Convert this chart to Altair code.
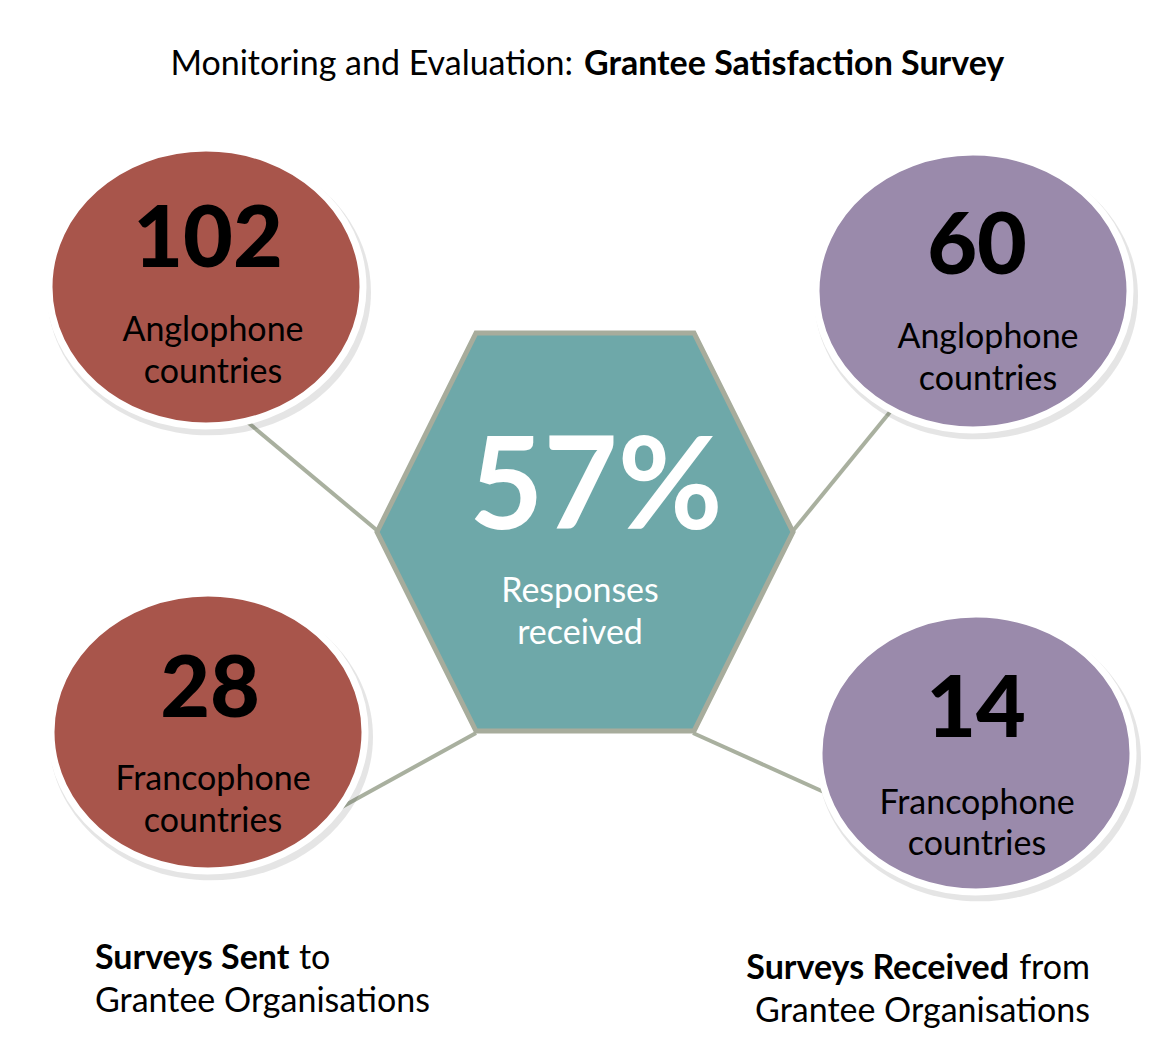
import altair as alt
import pandas as pd

# ---------------- data ----------------
title_plain = "Monitoring and Evaluation:"
title_bold = "Grantee Satisfaction Survey"

circle_group = ["Surveys Sent", "Surveys Sent", "Surveys Received", "Surveys Received"]
circle_region = ["Anglophone", "Francophone", "Anglophone", "Francophone"]
circle_count = [102, 28, 60, 14]
region_line2 = "countries"

response_rate = "57%"
centre_lines = ["Responses", "received"]

footer_left_bold = "Surveys Sent"
footer_left_plain = "to"
footer_right_bold = "Surveys Received"
footer_right_plain = "from"
footer_line2 = "Grantee Organisations"

# ---------------- layout (pixel positions on the page) ----------------
circle_cx = [206, 208, 973, 976]
circle_cy = [287, 732, 291, 753]
number_x = [208, 210, 977, 976]
number_y = [267, 717, 274, 737]
label_x = [213, 213, 988, 977]
label1_y = [341, 790, 348, 814]
label2_y = [383, 832, 390, 855]

hex_cx, hex_cy = 585, 532
connector = [  # x, y, x2, y2
    (245, 420, 379, 532),
    (340, 808, 476, 733),
    (890, 412, 792, 532),
    (693, 733, 835, 797),
]

RED = "#A8554B"
PURPLE = "#9A8AAB"
TEAL = "#6EA8A9"
HEX_STROKE = "#A7AC9C"
LINE_COL = "#A9B09F"
FONT = "Lato"

ELLIPSE = "M -1 0 A 1 0.885 0 1 1 1 0 A 1 0.885 0 1 1 -1 0 Z"
HEXAGON = ("M -1 0 L -0.524 -0.957 L 0.524 -0.957 L 1 0 "
           "L 0.524 0.957 L -0.524 0.957 Z")

xs = alt.Scale(domain=[8, 1163], nice=False, zero=False)
ys = alt.Scale(domain=[1038, 8], nice=False, zero=False)


def X(f="x"):
    return alt.X(f"{f}:Q", scale=xs, axis=None)


def Y(f="y"):
    return alt.Y(f"{f}:Q", scale=ys, axis=None)


# connectors
conn_df = pd.DataFrame(connector, columns=["x", "y", "x2", "y2"])
connectors = alt.Chart(conn_df).mark_rule(color=LINE_COL, strokeWidth=4).encode(
    x=X(), y=Y(), x2="x2:Q", y2="y2:Q"
)

# circles
circ_df = pd.DataFrame({
    "group": circle_group,
    "region": circle_region,
    "count": circle_count,
    "x": circle_cx,
    "y": circle_cy,
})
circ_df["sx"] = circ_df["x"] + 3
circ_df["sy"] = circ_df["y"] + 5
colour = alt.Color("group:N", scale=alt.Scale(domain=["Surveys Sent", "Surveys Received"],
                                                range=[RED, PURPLE]), legend=None)
shadows = alt.Chart(circ_df).mark_point(
    shape=ELLIPSE, size=(2 * 162) ** 2, filled=True, color="#000000", opacity=0.10
).encode(x=X("sx"), y=Y("sy"))
circles = alt.Chart(circ_df).mark_point(
    shape=ELLIPSE, size=(2 * 157) ** 2, filled=True, opacity=1,
    stroke="white", strokeWidth=7
).encode(x=X(), y=Y(), fill=colour)

# hexagon
hex_df = pd.DataFrame({"x": [hex_cx], "y": [hex_cy], "label": [response_rate]})
hexagon = alt.Chart(hex_df).mark_point(
    shape=HEXAGON, size=(2 * 208) ** 2, filled=True, fill=TEAL, opacity=1,
    stroke=HEX_STROKE, strokeWidth=5
).encode(x=X(), y=Y())


def text_layer(df, size, weight="normal", align="center", color="black"):
    return alt.Chart(df).mark_text(
        font=FONT, fontSize=size, fontWeight=weight, align=align,
        baseline="alphabetic", color=color
    ).encode(x=X(), y=Y(), text="t:N")


num_df = pd.DataFrame({"x": number_x, "y": number_y, "t": [str(c) for c in circle_count]})
lab1_df = pd.DataFrame({"x": label_x, "y": label1_y, "t": circle_region})
lab2_df = pd.DataFrame({"x": label_x, "y": label2_y, "t": [region_line2] * 4})

numbers = text_layer(num_df, 86, 900)
labels1 = text_layer(lab1_df, 34)
labels2 = text_layer(lab2_df, 34)

rate = text_layer(pd.DataFrame({"x": [596], "y": [529], "t": [response_rate]}), 128, "bold",
                  color="white")
centre = text_layer(pd.DataFrame({"x": [580, 580], "y": [602, 644], "t": centre_lines}), 34,
                    color="white")

title_a = text_layer(pd.DataFrame({"x": [573], "y": [75], "t": [title_plain]}), 34, align="right")
title_b = text_layer(pd.DataFrame({"x": [584], "y": [75], "t": [title_bold]}), 34, "bold",
                     align="left")

foot_lb = text_layer(pd.DataFrame({"x": [95], "y": [969], "t": [footer_left_bold]}), 34, "bold",
                     align="left")
foot_lp = text_layer(pd.DataFrame({"x": [299], "y": [969], "t": [footer_left_plain]}), 34,
                     align="left")
foot_l2 = text_layer(pd.DataFrame({"x": [95], "y": [1012], "t": [footer_line2]}), 34,
                     align="left")
foot_rb = text_layer(pd.DataFrame({"x": [1009], "y": [979], "t": [footer_right_bold]}), 34,
                     "bold", align="right")
foot_rp = text_layer(pd.DataFrame({"x": [1090], "y": [979], "t": [footer_right_plain]}), 34,
                     align="right")
foot_r2 = text_layer(pd.DataFrame({"x": [1090], "y": [1022], "t": [footer_line2]}), 34,
                     align="right")

chart = alt.layer(
    connectors, shadows, circles, hexagon,
    numbers, labels1, labels2, rate, centre,
    title_a, title_b, foot_lb, foot_lp, foot_l2, foot_rb, foot_rp, foot_r2,
).properties(
    width=1155, height=1030, autosize="none", padding=0, background="white"
).configure_view(strokeWidth=0)

chart.save("out.html", embed_options={"renderer": "svg", "actions": False})
